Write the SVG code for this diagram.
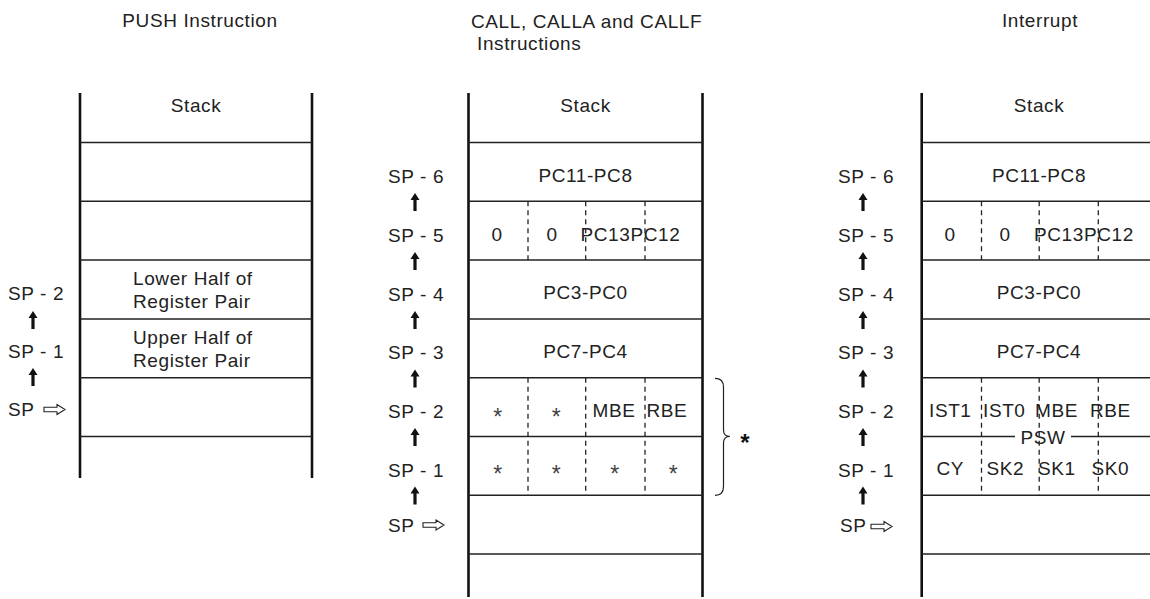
<svg xmlns="http://www.w3.org/2000/svg" xmlns:xlink="http://www.w3.org/1999/xlink" width="1150" height="599" viewBox="0 0 1150 599">
<style>
.t{font-family:"Liberation Sans",Arial,sans-serif;font-size:19px;letter-spacing:0.6px;fill:#222}
.m{text-anchor:middle}
.v{stroke:#111;stroke-width:2.6;fill:none}
.h{stroke:#222;stroke-width:1.5;fill:none}
.d{stroke:#222;stroke-width:1.3;stroke-dasharray:5 4;fill:none}
.ast{font-family:"Liberation Sans",Arial,sans-serif;font-size:23px;fill:#444;text-anchor:middle}
</style>
<defs>
<path id="up" d="M0,-9 L4.5,-2 L1.6,-2 L1.6,9 L-1.6,9 L-1.6,-2 L-4.5,-2 Z" fill="#111"/>
<path id="ra" d="M0,-2.2 L13,-2.2 L13,-5 L21,0 L13,5 L13,2.2 L0,2.2 Z" fill="#fff" stroke="#222" stroke-width="1.1" stroke-linejoin="miter"/>
</defs>
<rect width="1150" height="599" fill="#fff"/>

<g id="titles">
<text class="t m" x="200" y="27">PUSH Instruction</text>
<text class="t" x="471" y="28">CALL, CALLA and CALLF</text>
<text class="t" x="477" y="50">Instructions</text>
<text class="t m" x="1040" y="27">Interrupt</text>
</g>

<g id="stack-push">
<line class="v" x1="80" y1="93" x2="80" y2="478"/>
<line class="v" x1="312" y1="93" x2="312" y2="478"/>
<line class="h" x1="80" y1="142.5" x2="312" y2="142.5"/>
<line class="h" x1="80" y1="201.3" x2="312" y2="201.3"/>
<line class="h" x1="80" y1="260.1" x2="312" y2="260.1"/>
<line class="h" x1="80" y1="318.9" x2="312" y2="318.9"/>
<line class="h" x1="80" y1="377.7" x2="312" y2="377.7"/>
<line class="h" x1="80" y1="436.5" x2="312" y2="436.5"/>
<text class="t m" x="196" y="112">Stack</text>
<text class="t" x="133" y="285">Lower Half of</text>
<text class="t" x="133" y="307.5">Register Pair</text>
<text class="t" x="133" y="344">Upper Half of</text>
<text class="t" x="133" y="366.5">Register Pair</text>
</g>

<g id="labels-push">
<text class="t" x="8" y="299.5">SP - 2</text>
<text class="t" x="8" y="358">SP - 1</text>
<text class="t" x="8" y="416">SP</text>
</g>

<g id="stack-call">
<line class="v" x1="468.5" y1="93" x2="468.5" y2="597"/>
<line class="v" x1="702.5" y1="93" x2="702.5" y2="597"/>
<line class="h" x1="468.5" y1="142.5" x2="702.5" y2="142.5"/>
<line class="h" x1="468.5" y1="201.3" x2="702.5" y2="201.3"/>
<line class="h" x1="468.5" y1="260.1" x2="702.5" y2="260.1"/>
<line class="h" x1="468.5" y1="318.9" x2="702.5" y2="318.9"/>
<line class="h" x1="468.5" y1="377.7" x2="702.5" y2="377.7"/>
<line class="h" x1="468.5" y1="436.5" x2="702.5" y2="436.5"/>
<line class="h" x1="468.5" y1="495.3" x2="702.5" y2="495.3"/>
<line class="h" x1="468.5" y1="554.1" x2="702.5" y2="554.1"/>
<line class="d" x1="528" y1="201.3" x2="528" y2="260.1"/>
<line class="d" x1="585.7" y1="201.3" x2="585.7" y2="260.1"/>
<line class="d" x1="645" y1="201.3" x2="645" y2="260.1"/>
<line class="d" x1="528" y1="377.7" x2="528" y2="495.3"/>
<line class="d" x1="585.7" y1="377.7" x2="585.7" y2="495.3"/>
<line class="d" x1="645" y1="377.7" x2="645" y2="495.3"/>
<text class="t m" x="585.5" y="112">Stack</text>
<text class="t m" x="585.5" y="181.5">PC11-PC8</text>
<text class="t m" x="497" y="240.5">0</text>
<text class="t m" x="552" y="240.5">0</text>
<text class="t" x="580.5" y="240.5">PC13PC12</text>
<text class="t m" x="585.5" y="299.3">PC3-PC0</text>
<text class="t m" x="585.5" y="358.1">PC7-PC4</text>
<text class="ast" x="497.7" y="424.5">*</text>
<text class="ast" x="556.2" y="424.5">*</text>
<text class="t" x="592.5" y="417">MBE</text>
<text class="t" x="646.5" y="417">RBE</text>
<text class="ast" x="497.7" y="481.5">*</text>
<text class="ast" x="556.2" y="481.5">*</text>
<text class="ast" x="614.7" y="481.5">*</text>
<text class="ast" x="673.2" y="481.5">*</text>
<path class="h" style="stroke-width:1.2" d="M715,378.3 Q723.5,378.3 723.5,387 L723.5,430 Q723.5,436.5 730,436.5 Q723.5,436.5 723.5,443 L723.5,486.5 Q723.5,495.3 715,495.3"/>
<text x="745" y="450.5" style="font-family:'Liberation Sans',Arial,sans-serif;font-size:24px;font-weight:bold;fill:#111;text-anchor:middle">*</text>
</g>

<g id="labels-call">
<text class="t" x="388" y="183">SP - 6</text>
<text class="t" x="388" y="241.8">SP - 5</text>
<text class="t" x="388" y="300.6">SP - 4</text>
<text class="t" x="388" y="359.4">SP - 3</text>
<text class="t" x="388" y="418.2">SP - 2</text>
<text class="t" x="388" y="477">SP - 1</text>
<text class="t" x="388" y="532">SP</text>
</g>

<g id="stack-interrupt">
<line class="v" x1="921.7" y1="93" x2="921.7" y2="597"/>
<line class="h" x1="921.7" y1="142.5" x2="1150" y2="142.5"/>
<line class="h" x1="921.7" y1="201.3" x2="1150" y2="201.3"/>
<line class="h" x1="921.7" y1="260.1" x2="1150" y2="260.1"/>
<line class="h" x1="921.7" y1="318.9" x2="1150" y2="318.9"/>
<line class="h" x1="921.7" y1="377.7" x2="1150" y2="377.7"/>
<line class="h" x1="921.7" y1="436.5" x2="1015" y2="436.5"/>
<line class="h" x1="1071" y1="436.5" x2="1150" y2="436.5"/>
<line class="h" x1="921.7" y1="495.3" x2="1150" y2="495.3"/>
<line class="h" x1="921.7" y1="554.1" x2="1150" y2="554.1"/>
<line class="d" x1="981.5" y1="201.3" x2="981.5" y2="260.1"/>
<line class="d" x1="1039.2" y1="201.3" x2="1039.2" y2="260.1"/>
<line class="d" x1="1098.3" y1="201.3" x2="1098.3" y2="260.1"/>
<line class="d" x1="981.5" y1="377.7" x2="981.5" y2="495.3"/>
<line class="d" x1="1039.2" y1="377.7" x2="1039.2" y2="495.3"/>
<line class="d" x1="1098.3" y1="377.7" x2="1098.3" y2="495.3"/>
<text class="t m" x="1039" y="112">Stack</text>
<text class="t m" x="1039" y="181.5">PC11-PC8</text>
<text class="t m" x="950" y="240.5">0</text>
<text class="t m" x="1005" y="240.5">0</text>
<text class="t" x="1034" y="240.5">PC13PC12</text>
<text class="t m" x="1039" y="299.3">PC3-PC0</text>
<text class="t m" x="1039" y="358.1">PC7-PC4</text>
<text class="t" x="929" y="417">IST1</text>
<text class="t" x="983" y="417">IST0</text>
<text class="t" x="1035" y="417">MBE</text>
<text class="t" x="1090" y="417">RBE</text>
<text class="t m" x="1043" y="444">PSW</text>
<text class="t" x="936.5" y="475">CY</text>
<text class="t" x="986.5" y="475">SK2</text>
<text class="t" x="1038" y="475">SK1</text>
<text class="t" x="1091.5" y="475">SK0</text>
</g>

<g id="labels-interrupt">
<text class="t" x="838" y="183">SP - 6</text>
<text class="t" x="838" y="241.8">SP - 5</text>
<text class="t" x="838" y="300.6">SP - 4</text>
<text class="t" x="838" y="359.4">SP - 3</text>
<text class="t" x="838" y="418.2">SP - 2</text>
<text class="t" x="838" y="477">SP - 1</text>
<text class="t" x="840" y="532">SP</text>
</g>

<g id="connectors">
<use xlink:href="#up" x="33" y="320"/>
<use xlink:href="#up" x="33" y="377"/>
<use xlink:href="#ra" x="44" y="409.5"/>
<use xlink:href="#up" x="415" y="202"/>
<use xlink:href="#up" x="415" y="261"/>
<use xlink:href="#up" x="415" y="320"/>
<use xlink:href="#up" x="415" y="378.5"/>
<use xlink:href="#up" x="415" y="437"/>
<use xlink:href="#up" x="415" y="495.5"/>
<use xlink:href="#ra" x="423" y="525"/>
<use xlink:href="#up" x="863" y="202"/>
<use xlink:href="#up" x="863" y="261"/>
<use xlink:href="#up" x="863" y="320"/>
<use xlink:href="#up" x="863" y="378.5"/>
<use xlink:href="#up" x="863" y="437"/>
<use xlink:href="#up" x="863" y="495.5"/>
<use xlink:href="#ra" x="871" y="526.5"/>
</g>
</svg>
